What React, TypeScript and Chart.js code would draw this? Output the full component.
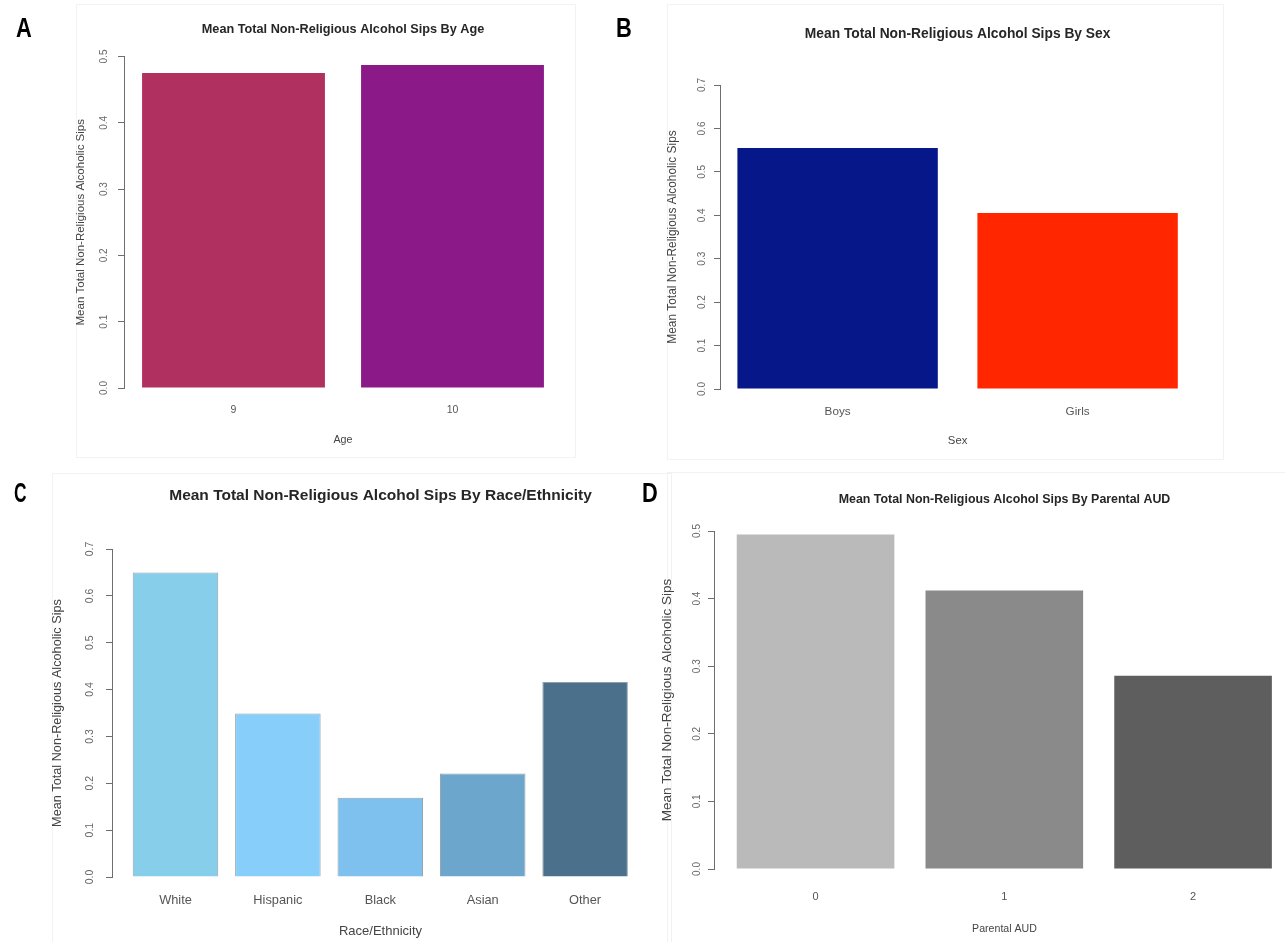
import React, { useEffect, useRef } from "react";
import { Chart, registerables } from "chart.js";

Chart.register(...registerables);

const FONT = '"Liberation Sans", Arial, Helvetica, sans-serif';
Chart.defaults.font.family = FONT;

// ---------- data ----------
const AGE_LABELS = ["9", "10"];
const AGE_VALUES = [0.475, 0.487];
const SEX_LABELS = ["Boys", "Girls"];
const SEX_VALUES = [0.555, 0.405];
const RACE_LABELS = ["White", "Hispanic", "Black", "Asian", "Other"];
const RACE_VALUES = [0.65, 0.349, 0.169, 0.221, 0.416];
const AUD_LABELS = ["0", "1", "2"];
const AUD_VALUES = [0.495, 0.412, 0.286];

const Y_TICKS_05 = [0, 0.1, 0.2, 0.3, 0.4, 0.5];
const Y_TICKS_07 = [0, 0.1, 0.2, 0.3, 0.4, 0.5, 0.6, 0.7];

// ---------- colours ----------
const AGE_COLORS = ["#B03060", "#8B1A88"];
const SEX_COLORS = ["#061789", "#FF2600"];
const RACE_COLORS = ["#87CEEB", "#87CEFA", "#7EC0EE", "#6CA6CD", "#4A708B"];
const AUD_COLORS = ["#BABABA", "#8A8A8A", "#5E5E5E"];

const rYTicks = {
  id: "rYTicks",
  afterDraw(chart: any, _args: any, opts: any) {
    const s = chart.scales.y;
    const ctx = chart.ctx;
    ctx.save();
    ctx.font = `${opts.size}px ${FONT}`;
    ctx.fillStyle = opts.color;
    ctx.textAlign = "center";
    ctx.textBaseline = "middle";
    s.ticks.forEach((t: any) => {
      const y = s.getPixelForValue(t.value);
      ctx.save();
      ctx.translate(opts.x, y);
      ctx.rotate(-Math.PI / 2);
      ctx.fillText(String(t.label), 0, 0);
      ctx.restore();
    });
    ctx.restore();
  },
};

type Panel = {
  left: number; top: number; width: number; height: number;
  chartL: number; chartT: number; chartR: number; chartB: number;
  xMin: number; xMax: number; yMax: number; yTicks: number[];
  labels: string[]; values: number[]; colors: string[]; border?: string;
  title: string; titleY: number; titleSize: number;
  yTitle: string; yTitleX: number; yTitleSize: number;
  yTickX: number; yTickSize: number;
  xTickY: number; xTickSize: number;
  xTitle: string; xTitleY: number; xTitleSize: number;
};

const lh = (s: number) => s * 1.2;

function buildConfig(p: Panel): any {
  const L = p.chartL - p.left;
  const R = p.chartR - p.left;
  const T = p.chartT - p.top;
  const B = p.chartB - p.top;
  const tY = p.titleY - p.top;
  return {
    type: "bar",
    data: {
      datasets: [
        {
          data: p.values.map((v, i) => ({ x: i, y: v })),
          backgroundColor: p.colors,
          borderColor: p.border || "rgba(0,0,0,0)",
          borderWidth: p.border ? 1 : 0,
          barPercentage: 0.835,
          categoryPercentage: 1,
        },
      ],
    },
    options: {
      responsive: false,
      animation: false,
      devicePixelRatio: 1,
      layout: { padding: { left: 0, top: 0, right: p.width - R, bottom: 0 } },
      plugins: {
        legend: { display: false },
        tooltip: { enabled: false },
        title: {
          display: true,
          fullSize: false,
          text: p.title,
          color: "#262626",
          font: { size: p.titleSize, weight: "bold", family: FONT },
          padding: {
            top: tY - lh(p.titleSize) / 2,
            bottom: T - (tY + lh(p.titleSize) / 2),
          },
        },
        rYTicks: { x: p.yTickX - p.left, size: p.yTickSize, color: "#666" },
      },
      scales: {
        x: {
          type: "linear",
          bounds: "data",
          offset: false,
          min: p.xMin,
          max: p.xMax,
          afterFit: (s: any) => { s.height = p.height - B; },
          afterBuildTicks: (s: any) => { s.ticks = p.labels.map((_, i) => ({ value: i })); },
          ticks: {
            callback: (v: any) => p.labels[v] ?? "",
            color: "#555",
            font: { size: p.xTickSize, family: FONT },
            padding: p.xTickY - p.chartB - lh(p.xTickSize) / 2,
            autoSkip: false,
            maxRotation: 0,
          },
          grid: { display: false, drawTicks: false, offset: false },
          border: { display: false },
          title: {
            display: true,
            text: p.xTitle,
            color: "#444",
            font: { size: p.xTitleSize, family: FONT },
            padding: { top: 0, bottom: p.top + p.height - p.xTitleY - lh(p.xTitleSize) / 2 },
          },
        },
        y: {
          type: "linear",
          bounds: "data",
          min: 0,
          max: p.yMax,
          afterFit: (s: any) => { s.width = L; },
          afterBuildTicks: (s: any) => { s.ticks = p.yTicks.map((v) => ({ value: v })); },
          ticks: { display: false, callback: (v: any) => Number(v).toFixed(1) },
          grid: { display: true, drawOnChartArea: false, drawTicks: true, tickLength: 6, color: "#6e6e6e" },
          border: { display: true, color: "#6e6e6e", width: 1 },
          title: {
            display: true,
            text: p.yTitle,
            color: "#444",
            font: { size: p.yTitleSize, family: FONT },
            padding: { top: p.yTitleX - p.left - lh(p.yTitleSize) / 2, bottom: 0 },
          },
        },
      },
    },
    plugins: [rYTicks],
  };
}

const Y_TITLE = "Mean Total Non-Religious Alcoholic Sips";

const PANELS: Panel[] = [
  {
    left: 0, top: 0, width: 640, height: 465,
    chartL: 124, chartT: 56.5, chartR: 562, chartB: 388,
    xMin: -0.5, xMax: 1.5, yMax: 0.5, yTicks: Y_TICKS_05,
    labels: AGE_LABELS, values: AGE_VALUES, colors: AGE_COLORS,
    title: "Mean Total Non-Religious Alcohol Sips By Age", titleY: 29.3, titleSize: 12.7,
    yTitle: Y_TITLE, yTitleX: 81, yTitleSize: 11.5,
    yTickX: 104, yTickSize: 10,
    xTickY: 410, xTickSize: 10.5,
    xTitle: "Age", xTitleY: 440, xTitleSize: 10.7,
  },
  {
    left: 640, top: 0, width: 645, height: 465,
    chartL: 720, chartT: 85, chartR: 1195.2, chartB: 389,
    xMin: -0.49, xMax: 1.49, yMax: 0.7, yTicks: Y_TICKS_07,
    labels: SEX_LABELS, values: SEX_VALUES, colors: SEX_COLORS,
    title: "Mean Total Non-Religious Alcohol Sips By Sex", titleY: 34, titleSize: 13.8,
    yTitle: Y_TITLE, yTitleX: 672.5, yTitleSize: 11.9,
    yTickX: 702, yTickSize: 10,
    xTickY: 411.7, xTickSize: 11.7,
    xTitle: "Sex", xTitleY: 440.7, xTitleSize: 11.3,
  },
  {
    left: 0, top: 465, width: 660, height: 477,
    chartL: 112, chartT: 549, chartR: 649, chartB: 877,
    xMin: -0.62, xMax: 4.624, yMax: 0.7, yTicks: Y_TICKS_07,
    labels: RACE_LABELS, values: RACE_VALUES, colors: RACE_COLORS, border: "rgba(55,80,100,0.55)",
    title: "Mean Total Non-Religious Alcohol Sips By Race/Ethnicity", titleY: 495.5, titleSize: 15.5,
    yTitle: Y_TITLE, yTitleX: 57.6, yTitleSize: 12.7,
    yTickX: 90.5, yTickSize: 10.5,
    xTickY: 900.7, xTickSize: 12.8,
    xTitle: "Race/Ethnicity", xTitleY: 931.5, xTitleSize: 13,
  },
  {
    left: 640, top: 465, width: 665, height: 477,
    chartL: 714, chartT: 531, chartR: 1295, chartB: 869,
    xMin: -0.538, xMax: 2.54, yMax: 0.5, yTicks: Y_TICKS_05,
    labels: AUD_LABELS, values: AUD_VALUES, colors: AUD_COLORS,
    title: "Mean Total Non-Religious Alcohol Sips By Parental AUD", titleY: 499.3, titleSize: 12.4,
    yTitle: Y_TITLE, yTitleX: 667, yTitleSize: 13.5,
    yTickX: 697, yTickSize: 10,
    xTickY: 896.7, xTickSize: 11,
    xTitle: "Parental AUD", xTitleY: 929, xTitleSize: 10.6,
  },
];

function ChartPanel({ p }: { p: Panel }) {
  const ref = useRef<HTMLCanvasElement | null>(null);
  useEffect(() => {
    const chart = new Chart(ref.current as HTMLCanvasElement, buildConfig(p));
    return () => chart.destroy();
  }, []);
  return (
    <canvas
      ref={ref}
      width={p.width}
      height={p.height}
      style={{ position: "absolute", left: p.left, top: p.top, width: p.width, height: p.height }}
    />
  );
}

const LETTERS = [
  { text: "A", left: 16, top: 14, sx: 0.78 },
  { text: "B", left: 616, top: 14, sx: 0.78 },
  { text: "C", left: 14, top: 479, sx: 0.62 },
  { text: "D", left: 641.5, top: 479, sx: 0.78 },
];

const FRAMES = [
  { left: 76, top: 4, width: 500, height: 454 },
  { left: 667, top: 4, width: 557, height: 456 },
  { left: 52, top: 473, width: 620, height: 500 },
  { left: 667, top: 472, width: 660, height: 500 },
];

export default function App() {
  return (
    <div
      style={{
        position: "absolute",
        left: 0,
        top: 0,
        width: 1285,
        height: 942,
        overflow: "hidden",
        background: "#ffffff",
      }}
    >
      {FRAMES.map((f, i) => (
        <div
          key={"f" + i}
          style={{
            position: "absolute",
            left: f.left,
            top: f.top,
            width: f.width,
            height: f.height,
            border: "1px solid #f2f2f2",
            boxSizing: "border-box",
          }}
        />
      ))}
      {PANELS.map((p, i) => (
        <ChartPanel key={i} p={p} />
      ))}
      {LETTERS.map((l) => (
        <div
          key={l.text}
          style={{
            position: "absolute",
            left: l.left,
            top: l.top,
            fontFamily: FONT,
            fontWeight: "bold",
            fontSize: 28,
            lineHeight: "28px",
            color: "#000",
            transform: `scaleX(${l.sx})`,
            transformOrigin: "left top",
          }}
        >
          {l.text}
        </div>
      ))}
    </div>
  );
}
